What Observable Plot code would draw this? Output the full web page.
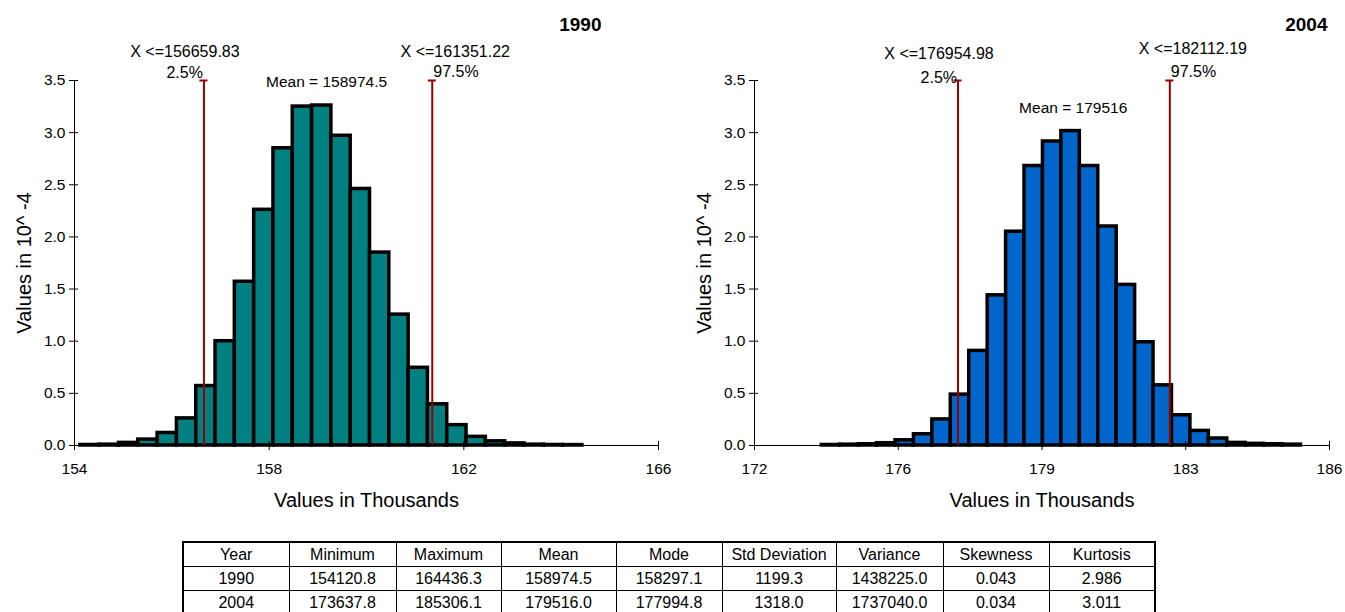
<!DOCTYPE html>
<html>
<head>
<meta charset="utf-8">
<script src="https://cdn.jsdelivr.net/npm/d3@7"></script>
<script src="https://cdn.jsdelivr.net/npm/@observablehq/plot@0.6"></script>
<style>
  body { margin: 0; background: #fff; font-family: "Liberation Sans", Arial, sans-serif; }
  #page { position: relative; width: 1345px; height: 612px; overflow: hidden; background: #fff; }
  .chart { position: absolute; top: 0; }
  #stats { position: absolute; left: 182px; top: 541px; border-collapse: collapse; border: 2px solid #000;
           font-size: 16px; color: #000; table-layout: fixed; }
  #stats td { border: 1px solid #000; text-align: center; padding: 0; height: 23px; line-height: 23px; }
  #stats tr:first-child td { height: 24px; line-height: 24px; }
</style>
</head>
<body>
<div id="page">
  <div id="left" class="chart" style="left:0px"></div>
  <div id="right" class="chart" style="left:680px"></div>
  <table id="stats"></table>
</div>
<script>
// Simulated distributions of the total, 1990 and 2004 (density in 10^-4 per unit, 26 equal bins)
const years = ["1990", "2004"];
const density1990 = [0.005, 0.008, 0.025, 0.057, 0.12, 0.26, 0.57, 1.0, 1.57, 2.26, 2.85, 3.25, 3.26,
                     2.97, 2.46, 1.85, 1.255, 0.745, 0.395, 0.195, 0.083, 0.04, 0.02, 0.008, 0.005, 0.004];
const density2004 = [0.005, 0.008, 0.012, 0.022, 0.05, 0.108, 0.25, 0.488, 0.907, 1.44, 2.05, 2.68, 2.915,
                     3.015, 2.68, 2.10, 1.54, 0.99, 0.577, 0.29, 0.14, 0.067, 0.025, 0.016, 0.012, 0.008];

// Summary statistics, one entry per year
const minimums  = [154120.8, 173637.8];
const maximums  = [164436.3, 185306.1];
const means     = [158974.5, 179516.0];
const modes     = [158297.1, 177994.8];
const stdDevs   = [1199.3, 1318.0];
const variances = [1438225.0, 1737040.0];
const skewness  = [0.043, 0.034];
const kurtosis  = [2.986, 3.011];

// 2.5% and 97.5% percentiles
const lowerPct = [156659.83, 176954.98];
const upperPct = [161351.22, 182112.19];
const pctLabels = ["2.5%", "97.5%"];

// Axis ticks (x in thousands)
const xTicks1990 = [154, 158, 162, 166];
const xTickLabels1990 = ["154", "158", "162", "166"];
const xTicks2004 = [172, 175.5, 179, 182.5, 186];
const xTickLabels2004 = ["172", "176", "179", "183", "186"];
const yTicks = [0, 0.5, 1.0, 1.5, 2.0, 2.5, 3.0, 3.5];

const headers = ["Year", "Minimum", "Maximum", "Mean", "Mode", "Std Deviation", "Variance", "Skewness", "Kurtosis"];

const FONT = "'Liberation Sans', Arial, sans-serif";

// Percentile marker: vertical rule with a small cap, the percent label and the value label
function percentileMarks(q, label, side, yTop, dyValue, dyPct) {
  const x = q / 1000;
  return [
    Plot.ruleX([x], {y1: 0, y2: yTop, stroke: "#990000", strokeWidth: 2}),
    Plot.ruleY([yTop], {x1: x, x2: x, stroke: "#990000", strokeWidth: 2, insetLeft: -4, insetRight: -4}),
    Plot.text([label], {x, y: yTop, text: d => d, textAnchor: side < 0 ? "end" : "start",
                        dx: side, dy: dyPct, fontSize: 16}),
    Plot.text([q], {x, y: yTop, text: d => "X <=" + d.toFixed(2),
                    dx: side < 0 ? -19 : 23, dy: dyValue, fontSize: 16})
  ];
}

function histogram(i, density, xTicks, xTickLabels, layout) {
  const lo = minimums[i], hi = maximums[i];
  const step = (hi - lo) / density.length;
  const bins = density.map((v, k) => ({x1: (lo + k * step) / 1000, x2: (lo + (k + 1) * step) / 1000, v}));
  const yTop = yTicks[yTicks.length - 1];
  const x0 = xTicks[0];
  return Plot.plot({
    width: layout.width,
    height: 520,
    marginLeft: 74,
    marginRight: layout.marginRight,
    marginTop: 80,
    marginBottom: 75,
    style: {fontFamily: FONT, fontSize: "15.5px", color: "#000", background: "transparent", overflow: "visible"},
    x: {domain: [xTicks[0], xTicks[xTicks.length - 1]]},
    y: {domain: [0, yTop]},
    marks: [
      Plot.rectY(bins, {x1: "x1", x2: "x2", y: "v", fill: layout.fill, stroke: "#000", strokeWidth: 3.5}),
      Plot.ruleX([x0], {stroke: "#000", strokeWidth: 1}),
      Plot.ruleY([0], {stroke: "#000", strokeWidth: 1}),
      // tick marks crossing the axis lines, then the tick labels
      Plot.axisY(yTicks, {anchor: "left", tickSize: 9, dx: 4, fill: "none", label: null}),
      Plot.axisY(yTicks, {anchor: "left", tickSize: 0, tickPadding: 9, tickFormat: d3.format(".1f"),
                          label: null, stroke: "none", fontSize: 15.5}),
      Plot.axisX(xTicks, {anchor: "bottom", tickSize: 9, dy: -4, fill: "none", label: null}),
      Plot.axisX(xTicks, {anchor: "bottom", tickSize: 0, tickPadding: 17, fontSize: 15.5,
                          tickFormat: d => xTickLabels[xTicks.indexOf(d)], label: null, stroke: "none"}),
      // percentile markers
      ...percentileMarks(lowerPct[i], pctLabels[0], -1, yTop, layout.loXdy, layout.loPdy),
      ...percentileMarks(upperPct[i], pctLabels[1], 1, yTop, layout.hiXdy, layout.hiPdy),
      // mean label above the tallest bar
      Plot.text([means[i]], {x: d => d / 1000, y: () => d3.max(density), text: d => "Mean = " + d,
                             dx: 10, dy: -23, fontSize: 15.5}),
      // year title
      Plot.text([years[i]], {frameAnchor: "top-right", textAnchor: "end", lineAnchor: "middle",
                             dx: layout.titleDx, dy: -56, fontSize: 19, fontWeight: "bold"}),
      // axis titles
      Plot.text(["Values in Thousands"], {frameAnchor: "bottom", lineAnchor: "middle", dy: 55, fontSize: 20}),
      Plot.text(["Values in 10^ -4"], {frameAnchor: "left", textAnchor: "middle", lineAnchor: "middle",
                                       rotate: -90, dx: -50, fontSize: 20})
    ]
  });
}

document.getElementById("left").append(histogram(0, density1990, xTicks1990, xTickLabels1990,
  {width: 680, marginRight: 22, fill: "#008080", titleDx: -57, loXdy: -29, loPdy: -8, hiXdy: -29, hiPdy: -9}));
document.getElementById("right").append(histogram(1, density2004, xTicks2004, xTickLabels2004,
  {width: 665, marginRight: 16, fill: "#0066CC", titleDx: -2, loXdy: -27, loPdy: -3, hiXdy: -32, hiPdy: -9}));

// Statistics table
const colWidths = [106, 107, 105, 115, 106, 114, 107, 106, 106];
const table = document.getElementById("stats");
const colgroup = document.createElement("colgroup");
colWidths.forEach(w => { const c = document.createElement("col"); c.style.width = w + "px"; colgroup.append(c); });
table.append(colgroup);
const rows = [headers].concat(years.map((y, i) => [
  y, minimums[i].toFixed(1), maximums[i].toFixed(1), means[i].toFixed(1), modes[i].toFixed(1),
  stdDevs[i].toFixed(1), variances[i].toFixed(1), skewness[i].toFixed(3), kurtosis[i].toFixed(3)
]));
rows.forEach(r => {
  const tr = document.createElement("tr");
  r.forEach(v => { const td = document.createElement("td"); td.textContent = v; tr.append(td); });
  table.append(tr);
});
</script>
</body>
</html>
